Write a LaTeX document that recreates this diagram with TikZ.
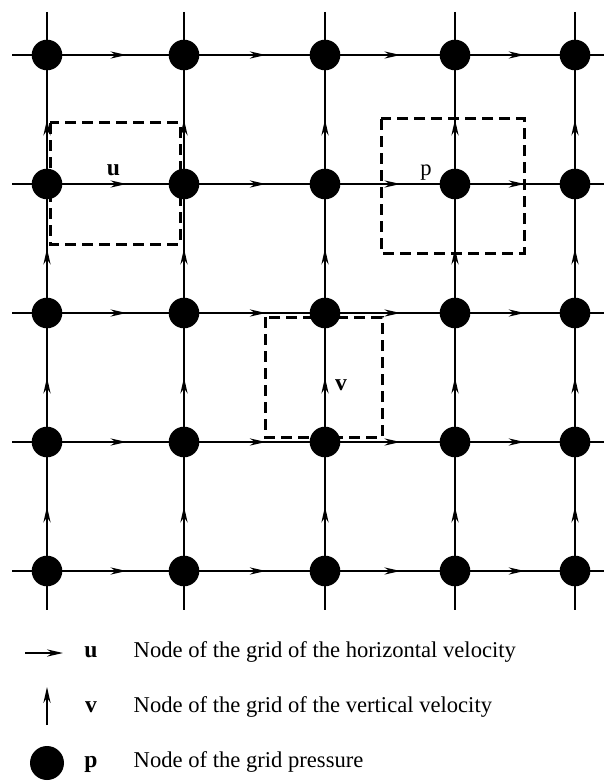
\documentclass[tikz,border=0pt]{standalone}
\usepackage{fontspec}
\setmainfont{Liberation Serif}
\usetikzlibrary{arrows.meta,decorations.markings}

\tikzset{
  pnode/.style={circle, fill=black, inner sep=0pt, minimum size=15.3pt},
  flowtip/.tip={Stealth[length=8pt,width=3.6pt,inset=2.6pt]},
  hflow/.style={postaction={decorate},
    decoration={markings, mark=at position 0.58 with {\arrow{flowtip}}}},
  vflow/.style={postaction={decorate},
    decoration={markings, mark=at position 0.5 with {\arrow{flowtip}}}},
  cellbox/.style={dash pattern=on 5.5pt off 3pt, line width=1.5pt},
  plaintext/.style={font=\fontsize{11.3}{13.5}\selectfont},
  boldtext/.style={font=\fontsize{11.8}{13.5}\selectfont\bfseries},
}

\begin{document}
\begin{tikzpicture}[x=0.5pt, y=-0.5pt, line width=0.7pt]

\useasboundingbox (0,0) rectangle (604,781);

\foreach \r/\y in {1/55,2/184,3/313,4/442,5/571}{
  \foreach \c/\x in {1/47,2/184,3/325,4/455,5/575}{
    \coordinate (g\r\c) at (\x,\y);
  }
  \coordinate (w\r) at (12,\y);
  \coordinate (e\r) at (604,\y);
}
\foreach \c/\x in {1/47,2/184,3/325,4/455,5/575}{
  \coordinate (n\c) at (\x,12);
  \coordinate (s\c) at (\x,610);
}

\foreach \r in {1,...,5}{
  \draw (w\r) -- (g\r1);
  \draw (g\r5) -- (e\r);
  \foreach \c [count=\n from 2] in {1,...,4}{
    \draw[hflow] (g\r\c) -- (g\r\n);
  }
}
\foreach \c in {1,...,5}{
  \draw (n\c) -- (g1\c);
  \draw (g5\c) -- (s\c);
  \foreach \r [count=\n from 2] in {1,...,4}{
    \draw[vflow] (g\n\c) -- (g\r\c);
  }
}

\foreach \r in {1,...,5}{
  \foreach \c in {1,...,5}{
    \node[pnode] (p\r\c) at (g\r\c) {};
  }
}

\draw[cellbox] (50,123) rectangle (180,244);
\draw[cellbox] (381,119) rectangle (524,253);
\draw[cellbox] (265,317) rectangle (382,437);

\node[boldtext, anchor=base] (ulabel) at (113.5,175) {u};
\node[plaintext, anchor=base] (plabel) at (426,175) {p};
\node[boldtext, anchor=base] (vlabel) at (341,390) {v};

\coordinate (ua) at (25,653);
\coordinate (ub) at (63,653);
\draw[-flowtip] (ua) -- (ub);
\coordinate (va) at (47,725);
\coordinate (vb) at (47,687);
\draw[-flowtip] (va) -- (vb);
\node[pnode, minimum size=17pt] (pkey) at (47,763) {};

\node[boldtext, anchor=base] (ukey) at (91,657) {u};
\node[boldtext, anchor=base] (vkey) at (91,712) {v};
\node[boldtext, anchor=base] (pkeylabel) at (91,767) {p};

\node[plaintext, anchor=base west, inner sep=0pt] (utext) at (133,657) {Node of the grid of the horizontal velocity};
\node[plaintext, anchor=base west, inner sep=0pt] (vtext) at (133,712) {Node of the grid of the vertical velocity};
\node[plaintext, anchor=base west, inner sep=0pt] (ptext) at (133,767) {Node of the grid pressure};

\end{tikzpicture}
\end{document}
